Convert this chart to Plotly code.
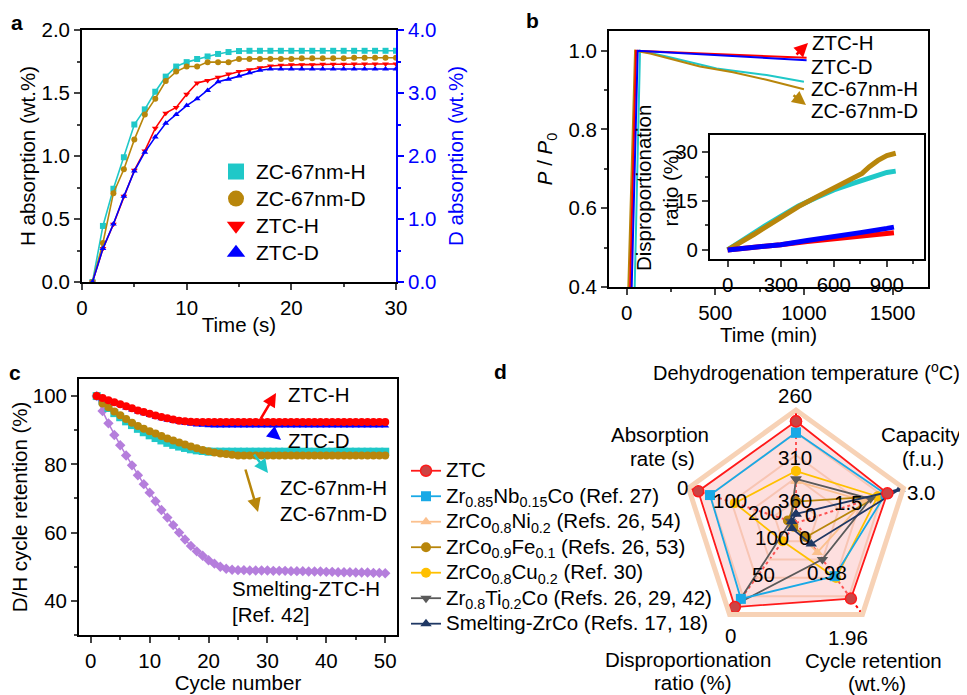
import plotly.graph_objects as go

# page is 967x695; the HTML body adds an 8 px margin, so the figure is drawn 8 px in
W, H = 959, 687
OFF = 8
def px(x): return (x - OFF) / W
def py(y): return 1 - (y - OFF) / H

FONT = "Arial, Liberation Sans, sans-serif"
FS = 20.5

# ---------------- Panel a data ----------------
time_a = list(range(1, 31))
zc67_h_a = [0, 0.445, 0.74, 0.99, 1.25, 1.37, 1.51, 1.63, 1.71, 1.745, 1.77, 1.79, 1.81, 1.825, 1.833,
            1.835, 1.835, 1.835, 1.835, 1.835, 1.835, 1.835, 1.835, 1.835, 1.835, 1.835, 1.835, 1.835, 1.835, 1.835]
zc67_d_a = [0, 0.62, 1.41, 1.79, 2.26, 2.66, 2.91, 3.19, 3.34, 3.42, 3.42, 3.49, 3.49, 3.49, 3.54,
            3.54, 3.54, 3.54, 3.54, 3.54, 3.55, 3.55, 3.55, 3.55, 3.55, 3.56, 3.56, 3.56, 3.56, 3.56]
ztc_h_a = [0, 0.265, 0.458, 0.68, 0.887, 1.04, 1.22, 1.34, 1.385, 1.49, 1.58, 1.60, 1.625, 1.65, 1.67,
           1.685, 1.70, 1.714, 1.72, 1.725, 1.725, 1.725, 1.728, 1.728, 1.728, 1.73, 1.73, 1.73, 1.73, 1.73]
ztc_d_a = [0, 0.53, 0.92, 1.36, 1.76, 2.06, 2.30, 2.52, 2.66, 2.80, 2.91, 3.04, 3.18, 3.22, 3.27,
           3.32, 3.36, 3.38, 3.38, 3.38, 3.38, 3.38, 3.38, 3.38, 3.38, 3.38, 3.38, 3.38, 3.38, 3.38]

# ---------------- Panel b data ----------------
ztc_h_b_t = [19, 53, 1015]
ztc_h_b_p = [0.4, 1.0, 0.982]
ztc_d_b_t = [28, 62, 1015]
ztc_d_b_p = [0.4, 1.0, 0.976]
zc67_h_b_t = [45, 75, 225, 507, 789, 1000]
zc67_h_b_p = [0.4, 1.0, 0.985, 0.955, 0.938, 0.921]
zc67_d_b_t = [9, 47, 132, 413, 600, 789, 1000]
zc67_d_b_p = [0.4, 1.0, 0.993, 0.96, 0.945, 0.926, 0.902]

# inset: disproportionation ratio (%)
ins_zc_d_t = [0, 50, 100, 150, 200, 300, 400, 500, 600, 700, 760, 800, 850, 900, 950]
ins_zc_d_v = [0, 1.5, 3.0, 4.8, 6.5, 10.0, 13.3, 16.2, 19.0, 21.8, 23.5, 25.5, 27.5, 29.0, 29.7]
ins_zc_h_t = [0, 50, 100, 150, 200, 300, 400, 500, 600, 700, 800, 900, 950]
ins_zc_h_v = [0, 1.8, 3.8, 5.5, 7.0, 10.3, 13.5, 16.0, 18.4, 20.3, 22.0, 23.8, 24.2]
ins_ztc_d_t = [0, 150, 300, 450, 600, 750, 900, 940]
ins_ztc_d_v = [0, 0.7, 1.6, 2.9, 4.0, 5.3, 6.6, 7.0]
ins_ztc_h_t = [0, 150, 300, 450, 600, 750, 900, 940]
ins_ztc_h_v = [0, 0.7, 1.6, 2.6, 3.5, 4.3, 5.1, 5.3]

# ---------------- Panel c data ----------------
cycles = list(range(1, 51))
ztc_h_c = [100, 99.4, 98.8, 98.2, 97.6, 97.0, 96.4, 95.8, 95.3, 94.8, 94.3, 93.9, 93.5, 93.1, 92.8, 92.6, 92.5] + [92.4] * 33
ztc_d_c = [100, 99.2, 98.6, 97.9, 97.3, 96.6, 96.0, 95.4, 94.9, 94.4, 93.9, 93.4, 93.0, 92.6, 92.3, 92.0, 91.8,
           91.6, 91.5, 91.4] + [91.3] * 30
zc67_h_c = [100, 98.5, 96.5, 95.0, 93.8, 92.6, 91.5, 90.4, 89.4, 88.5, 87.7, 87.0, 86.3, 85.7, 85.2, 84.8, 84.4,
            84.1, 83.9, 83.7] + [83.7] * 30
zc67_d_c = [100, 97.8, 96.7, 95.5, 94.4, 93.3, 92.2, 91.2, 90.4, 89.7, 89.0, 88.3, 87.6, 87.0, 86.4, 85.8, 85.2,
            84.7, 84.2, 83.8, 83.5, 83.2, 83.0, 82.8] + [82.6] * 26
smelt_c = [100, 95.6, 92.0, 88.6, 85.6, 82.6, 79.7, 76.8, 74.2, 71.7, 69.2, 66.6, 64.4, 62.2, 60.0, 58.0, 56.1,
           54.5, 53.2, 51.9, 50.9, 50.0, 49.4, 49.1, 49.0, 49.0, 48.9, 48.9, 48.9, 48.9, 48.8, 48.8, 48.8, 48.7,
           48.7, 48.7, 48.6, 48.6, 48.6, 48.5, 48.5, 48.4, 48.4, 48.4, 48.3, 48.3, 48.3, 48.2, 48.2, 48.1]

# ---------------- Panel d data (radar) ----------------
# axes order: temperature, capacity, cycle retention, disproportionation, absorption rate
radar_axes = ["Temperature", "Capacity", "Cycle retention", "Disproportionation", "Absorption rate"]
radar_center = [360, 0, 0, 100, 200]
radar_outer = [260, 3.0, 1.96, 0, 0]
radar_names = ["ZTC", "Zr<sub>0.85</sub>Nb<sub>0.15</sub>Co (Ref. 27)", "ZrCo<sub>0.8</sub>Ni<sub>0.2</sub> (Refs. 26, 54)",
               "ZrCo<sub>0.9</sub>Fe<sub>0.1</sub> (Refs. 26, 53)", "ZrCo<sub>0.8</sub>Cu<sub>0.2</sub> (Ref. 30)",
               "Zr<sub>0.8</sub>Ti<sub>0.2</sub>Co (Refs. 26, 29, 42)", "Smelting-ZrCo (Refs. 17, 18)"]
radar_values = [
    [270, 2.55, 1.62, 8, 18],
    [280, 2.50, 1.14, 17, 40],
    [323, 1.90, 0.63, 95, 188],
    [341, 2.28, 0.30, 96, 185],
    [314, 2.28, 1.18, 80, 86],
    [321, 2.08, 0.78, 12, 190],
    [352, 2.90, 0.45, 94, 192],
]
radar_colors = ["#ff1a1a", "#19a9e6", "#fbc08e", "#b8860b", "#ffc000", "#5a5a5a", "#1f3864"]
radar_symbols = ["circle", "square", "triangle-up", "circle", "circle", "triangle-down", "triangle-up"]

def norm(vals):
    return [(v - c) / (o - c) for v, c, o in zip(vals, radar_center, radar_outer)]

def big(s, size):
    return '<span style="font-size:%spx">%s</span>' % (size, s)

fig = go.Figure()

# ---- Panel a traces ----
a_series = [
    ("ZC-67nm-H", zc67_h_a, "#1fc8c8", "square", "y"),
    ("ZC-67nm-D", zc67_d_a, "#b8860b", "circle", "y2"),
    ("ZTC-H", ztc_h_a, "#ff0000", "triangle-down", "y"),
    ("ZTC-D", ztc_d_a, "#0000ff", "triangle-up", "y2"),
]
for name, ys, col, sym, yax in a_series:
    fig.add_trace(go.Scatter(x=time_a, y=ys, mode="lines+markers", xaxis="x", yaxis=yax,
                             line=dict(color=col, width=1.6), marker=dict(symbol=sym, size=6, color=col),
                             showlegend=False, name=name))
for name, ys, col, sym, yax in a_series:
    fig.add_trace(go.Scatter(x=[None], y=[None], mode="markers", xaxis="x", yaxis="y",
                             marker=dict(symbol=sym, size=16, color=col), name=big(name, 21), legend="legend"))

# ---- Panel b traces ----
for t, p, col in [(zc67_h_b_t, zc67_h_b_p, "#1fc8c8"), (zc67_d_b_t, zc67_d_b_p, "#b8860b"),
                  (ztc_h_b_t, ztc_h_b_p, "#ff0000"), (ztc_d_b_t, ztc_d_b_p, "#0000ff")]:
    fig.add_trace(go.Scatter(x=t, y=p, mode="lines", xaxis="x3", yaxis="y3",
                             line=dict(color=col, width=2), showlegend=False))
for t, v, col in [(ins_zc_h_t, ins_zc_h_v, "#1fc8c8"), (ins_zc_d_t, ins_zc_d_v, "#b8860b"),
                  (ins_ztc_h_t, ins_ztc_h_v, "#ff0000"), (ins_ztc_d_t, ins_ztc_d_v, "#0000ff")]:
    fig.add_trace(go.Scatter(x=t, y=v, mode="lines", xaxis="x4", yaxis="y4",
                             line=dict(color=col, width=5), showlegend=False))

# ---- Panel c traces ----
for ys, col, sym, sz in [(smelt_c, "#b57edc", "diamond", 8), (zc67_h_c, "#1fc8c8", "square", 8),
                         (zc67_d_c, "#b8860b", "circle", 8), (ztc_d_c, "#0000ff", "triangle-up", 7),
                         (ztc_h_c, "#ff0000", "circle", 8)]:
    fig.add_trace(go.Scatter(x=cycles, y=ys, mode="lines+markers", xaxis="x5", yaxis="y5",
                             line=dict(color=col, width=1.5), marker=dict(symbol=sym, size=sz, color=col),
                             showlegend=False))

# ---- Panel d traces ----
theta_closed = radar_axes + radar_axes[:1]
ztc_r = norm(radar_values[0])
fig.add_trace(go.Scatterpolar(r=ztc_r + ztc_r[:1], theta=theta_closed, mode="lines",
                              fill="toself", fillcolor="rgba(250,185,185,0.45)", line=dict(width=0),
                              showlegend=False, subplot="polar"))
order = [2, 3, 4, 5, 1, 6, 0]
for i in order:
    r = norm(radar_values[i])
    if i == 0:
        mk = dict(symbol="circle", size=11, color="#cc4444", line=dict(color="#ff1a1a", width=1.5))
    else:
        mk = dict(symbol=radar_symbols[i], size=10, color=radar_colors[i])
    fig.add_trace(go.Scatterpolar(r=r + r[:1], theta=theta_closed, mode="lines+markers",
                                  line=dict(color=radar_colors[i], width=1.8), marker=mk,
                                  name=big(radar_names[i], 20.5), legend="legend2", legendrank=i + 1,
                                  subplot="polar"))

axis_common = dict(showline=True, linecolor="black", linewidth=1.8, ticks="outside", ticklen=6, tickwidth=1.5,
                   showgrid=False, zeroline=False, automargin=False, tickfont=dict(size=FS, color="black"),
                   title_font=dict(size=FS, color="black"))

fig.update_layout(
    width=W, height=H, margin=dict(l=0, r=0, t=0, b=0, autoexpand=False),
    paper_bgcolor="white", plot_bgcolor="white",
    font=dict(family=FONT, size=FS, color="black"),
    xaxis=dict(axis_common, domain=[px(82), px(396)], anchor="y", range=[0, 30], dtick=10, mirror=True,
               minor=dict(dtick=5, ticks="outside", ticklen=3),
               title=dict(text="Time (s)", standoff=0)),
    yaxis=dict(axis_common, domain=[py(282), py(30)], anchor="x", range=[0, 2], dtick=0.5, tickformat=".1f",
               minor=dict(dtick=0.25, ticks="outside", ticklen=3),
               title=dict(text="H absorption (wt.%)", standoff=0)),
    yaxis2=dict(axis_common, overlaying="y", side="right", anchor="x", range=[0, 4], dtick=1, tickformat=".1f",
                linecolor="#0000ff", tickcolor="#0000ff", tickfont=dict(size=FS, color="#0000ff"),
                minor=dict(dtick=0.5, ticks="outside", ticklen=3, tickcolor="#0000ff"),
                title=dict(text="D absorption (wt.%)", font=dict(size=FS, color="#0000ff"), standoff=13)),
    xaxis3=dict(axis_common, domain=[px(609), px(928)], anchor="y3", range=[-100, 1700], dtick=500, mirror=True,
                minor=dict(dtick=250, ticks="outside", ticklen=3),
                title=dict(text="Time (min)", standoff=0)),
    yaxis3=dict(axis_common, domain=[py(287), py(31)], anchor="x3", range=[0.4, 1.05], dtick=0.2,
                tickformat=".1f", mirror=True, minor=dict(dtick=0.1, ticks="outside", ticklen=3),
                title=dict(text="<i>P</i> / <i>P</i><sub>0</sub>", standoff=10)),
    xaxis4=dict(axis_common, domain=[px(710), px(924)], anchor="y4", range=[-100, 1110], dtick=300, mirror=True,
                minor=dict(dtick=150, ticks="outside", ticklen=3)),
    yaxis4=dict(axis_common, domain=[py(259), py(135)], anchor="x4", range=[-2.8, 35.3], tickvals=[0, 15, 30],
                mirror=True, minor=dict(dtick=7.5, ticks="outside", ticklen=3)),
    xaxis5=dict(axis_common, domain=[px(79), px(397)], anchor="y5", range=[-2, 52], dtick=10, mirror=True,
                minor=dict(dtick=5, ticks="outside", ticklen=3),
                title=dict(text="Cycle number", standoff=4)),
    yaxis5=dict(axis_common, domain=[py(635), py(379)], anchor="x5", range=[30, 105], tickvals=[40, 60, 80, 100],
                mirror=True, minor=dict(dtick=10, ticks="outside", ticklen=3),
                title=dict(text="D/H cycle retention (%)", standoff=6)),
    polar=dict(
        domain=dict(x=[px(683), px(909)], y=[py(636), py(410)]),
        gridshape="linear", bgcolor="white",
        radialaxis=dict(range=[0, 1], tickvals=[0.2, 0.4, 0.6, 0.8], showticklabels=False, ticks="",
                        showline=False, gridcolor="#f6cfb0", gridwidth=1.5),
        angularaxis=dict(type="category", categoryorder="array", categoryarray=radar_axes,
                         rotation=90, direction="clockwise",
                         showticklabels=False, ticks="", gridcolor="#ff0000", griddash="dot", gridwidth=2,
                         showline=True, linecolor="#f7d2b6", linewidth=5),
    ),
    legend=dict(x=px(216), y=py(153), xanchor="left", yanchor="top", bgcolor="rgba(0,0,0,0)",
                font=dict(size=18.5), tracegroupgap=0),
    legend2=dict(x=px(406), y=py(453), xanchor="left", yanchor="top", bgcolor="rgba(0,0,0,0)",
                 font=dict(size=17.3), tracegroupgap=0, traceorder="normal"),
)

ann = []
def text(x, y, s, size=FS, anchor="center", color="black", bold=False, angle=0):
    ann.append(dict(x=px(x), y=py(y), xref="paper", yref="paper", text=("<b>%s</b>" % s) if bold else s,
                    showarrow=False, xanchor=anchor, yanchor="middle", textangle=angle,
                    font=dict(size=size, color=color, family=FONT)))

def arrow(hx, hy, tx, ty, color):
    ann.append(dict(x=px(hx), y=py(hy), xref="paper", yref="paper", ax=tx - hx, ay=ty - hy,
                    showarrow=True, arrowhead=2, arrowsize=1.1, arrowwidth=2.5, arrowcolor=color, text=""))

# panel letters
text(17, 22, "a", size=21, bold=True)
text(532, 20, "b", size=21, bold=True)
text(15, 372, "c", size=21, bold=True)
text(500, 371, "d", size=21, bold=True)

# panel b labels
text(810, 43, "ZTC-H", anchor="left")
text(809, 67, "ZTC-D", anchor="left")
text(809, 89, "ZC-67nm-H", anchor="left")
text(809, 111, "ZC-67nm-D", anchor="left")
arrow(808, 43, 795, 56, "#ff0000")
arrow(806, 105, 792, 94, "#b8860b")
text(657, 188, "Disproportionation<br>ratio (%)", angle=-90)

# panel c labels
text(318, 394, "ZTC-H")
text(318, 440, "ZTC-D")
text(389, 487, "ZC-67nm-H", anchor="right")
text(389, 513, "ZC-67nm-D", anchor="right")
text(230, 588, "Smelting-ZTC-H", anchor="left")
text(230, 614, "[Ref. 42]", anchor="left")
arrow(276, 393, 260, 420, "#ff0000")
arrow(281, 440, 270, 431, "#0000ff")
arrow(268, 473, 253, 453, "#1fc8c8")
arrow(258, 512, 245, 468, "#b8860b")

# panel d labels
text(806, 371, "Dehydrogenation temperature (<sup>o</sup>C)", size=20)
text(795, 395, "260")
text(921, 434, "Capacity")
text(923, 458, "(f.u.)")
text(905, 492, "3.0", anchor="left")
text(660, 434, "Absorption")
text(662, 458, "rate (s)")
text(682, 487, "0")
text(730, 635, "0")
text(688, 659, "Disproportionation")
text(692, 682, "ratio (%)")
text(848, 637, "1.96")
text(873, 660, "Cycle retention")
text(877, 683, "(wt.%)")
text(795, 457, "310")
text(795, 500, "360")
text(730, 500, "100")
text(765, 512, "200")
text(810, 514, "0")
text(848, 502, "1.5")
text(772, 537, "100")
text(804, 537, "0")
text(763, 574, "50")
text(827, 572, "0.98")

fig.update_layout(annotations=ann)
fig.write_html("out.html")
